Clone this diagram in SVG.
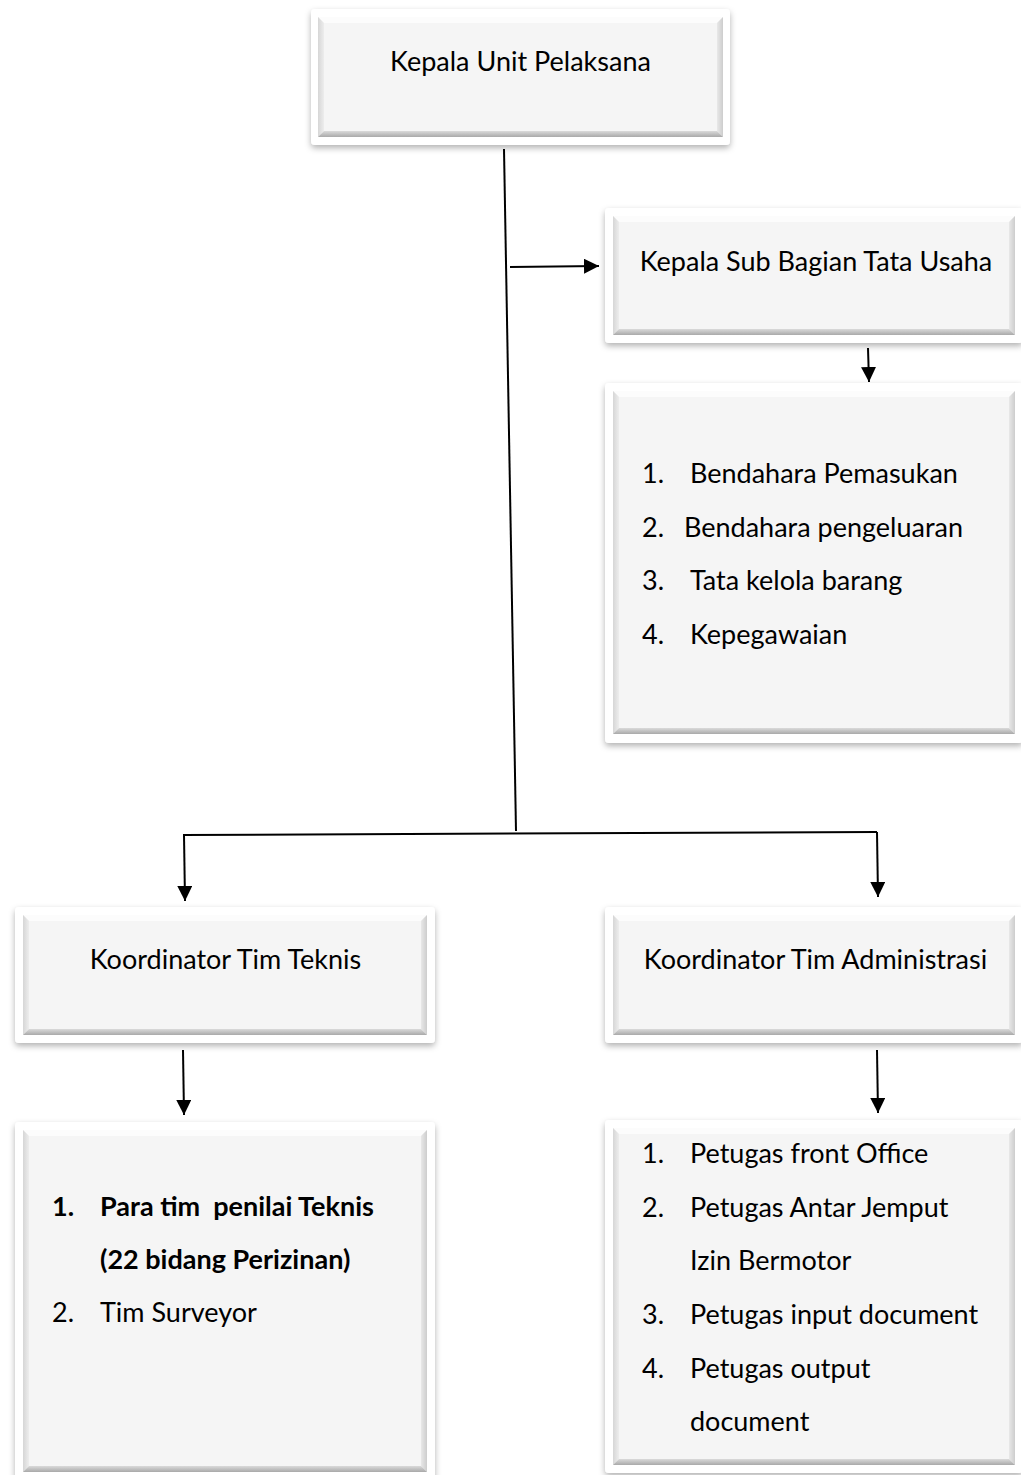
<svg xmlns="http://www.w3.org/2000/svg" width="1021" height="1475" viewBox="0 0 1021 1475">
<style>
.t{font-family:Lato,"Liberation Sans",sans-serif;font-size:27px;fill:#000;white-space:pre}
.b{font-weight:bold}
.outer{fill:#fff}
.face{fill:#f5f5f5}
.bt{fill:#fcfcfc}
.bl{fill:url(#gl)}
.br{fill:url(#gr)}
.bb{fill:url(#gb)}
.ln{stroke:#000;stroke-width:2;fill:none}
.ar{stroke:#000;stroke-width:2;fill:none;marker-end:url(#ah)}
</style>
<defs>
<filter id="sh" x="-10%" y="-10%" width="120%" height="125%">
<feDropShadow dx="0" dy="3" stdDeviation="3" flood-color="#000" flood-opacity="0.3"/>
</filter>
<linearGradient id="gl" x1="0" y1="0" x2="1" y2="0"><stop offset="0" stop-color="#d6d6d6"/><stop offset="1" stop-color="#ededed"/></linearGradient>
<linearGradient id="gr" x1="0" y1="0" x2="1" y2="0"><stop offset="0" stop-color="#e8e8e8"/><stop offset="1" stop-color="#cdcdcd"/></linearGradient>
<linearGradient id="gb" x1="0" y1="0" x2="0" y2="1"><stop offset="0" stop-color="#dadada"/><stop offset="1" stop-color="#a9a9a9"/></linearGradient>
<marker id="ah" markerUnits="userSpaceOnUse" markerWidth="16" markerHeight="16" refX="15" refY="7.5" orient="auto">
<path d="M0,0 L15,7.5 L0,15 Z" fill="#000"/>
</marker>
</defs>

<g id="n1">
<rect class="outer" x="311" y="9" width="419" height="136" rx="4" filter="url(#sh)"/>
<rect class="face" x="318" y="17" width="405" height="120"/>
<polygon class="bt" points="318,17 723,17 717,23 324,23"/>
<polygon class="bl" points="318,17 324,23 324,131 318,137"/>
<polygon class="br" points="723,17 723,137 717,131 717,23"/>
<polygon class="bb" points="318,137 723,137 717,131 324,131"/>
<text class="t" x="520.5" y="71" text-anchor="middle">Kepala Unit Pelaksana</text>
</g>

<g id="n2">
<rect class="outer" x="605" y="208" width="418" height="135" rx="4" filter="url(#sh)"/>
<rect class="face" x="613" y="216" width="402" height="119"/>
<polygon class="bt" points="613,216 1015,216 1009,222 619,222"/>
<polygon class="bl" points="613,216 619,222 619,329 613,335"/>
<polygon class="br" points="1015,216 1015,335 1009,329 1009,222"/>
<polygon class="bb" points="613,335 1015,335 1009,329 619,329"/>
<text class="t" x="816" y="271" text-anchor="middle">Kepala Sub Bagian Tata Usaha</text>
</g>

<g id="n3">
<rect class="outer" x="605" y="383" width="418" height="360" rx="4" filter="url(#sh)"/>
<rect class="face" x="613" y="391" width="402" height="343"/>
<polygon class="bt" points="613,391 1015,391 1009,397 619,397"/>
<polygon class="bl" points="613,391 619,397 619,728 613,734"/>
<polygon class="br" points="1015,391 1015,734 1009,728 1009,397"/>
<polygon class="bb" points="613,734 1015,734 1009,728 619,728"/>
<text class="t" x="642" y="483">1.</text><text class="t" x="690" y="483">Bendahara Pemasukan</text>
<text class="t" x="642" y="537">2.</text><text class="t" x="684" y="537">Bendahara pengeluaran</text>
<text class="t" x="642" y="590">3.</text><text class="t" x="690" y="590">Tata kelola barang</text>
<text class="t" x="642" y="644">4.</text><text class="t" x="690" y="644">Kepegawaian</text>
</g>

<g id="n4">
<rect class="outer" x="15" y="907" width="420" height="136" rx="4" filter="url(#sh)"/>
<rect class="face" x="23" y="915" width="404" height="120"/>
<polygon class="bt" points="23,915 427,915 421,921 29,921"/>
<polygon class="bl" points="23,915 29,921 29,1029 23,1035"/>
<polygon class="br" points="427,915 427,1035 421,1029 421,921"/>
<polygon class="bb" points="23,1035 427,1035 421,1029 29,1029"/>
<text class="t" x="225.5" y="969" text-anchor="middle">Koordinator Tim Teknis</text>
</g>

<g id="n5">
<rect class="outer" x="605" y="907" width="418" height="136" rx="4" filter="url(#sh)"/>
<rect class="face" x="613" y="915" width="402" height="120"/>
<polygon class="bt" points="613,915 1015,915 1009,921 619,921"/>
<polygon class="bl" points="613,915 619,921 619,1029 613,1035"/>
<polygon class="br" points="1015,915 1015,1035 1009,1029 1009,921"/>
<polygon class="bb" points="613,1035 1015,1035 1009,1029 619,1029"/>
<text class="t" x="815.5" y="969" text-anchor="middle">Koordinator Tim Administrasi</text>
</g>

<g id="n6">
<rect class="outer" x="15" y="1122" width="420" height="358" rx="4" filter="url(#sh)"/>
<rect class="face" x="23" y="1130" width="404" height="342"/>
<polygon class="bt" points="23,1130 427,1130 421,1136 29,1136"/>
<polygon class="bl" points="23,1130 29,1136 29,1466 23,1472"/>
<polygon class="br" points="427,1130 427,1472 421,1466 421,1136"/>
<polygon class="bb" points="23,1472 427,1472 421,1466 29,1466"/>
<text class="t b" x="52" y="1216">1.</text><text class="t b" x="100" y="1216" xml:space="preserve">Para tim  penilai Teknis</text>
<text class="t b" x="100" y="1269">(22 bidang Perizinan)</text>
<text class="t" x="52" y="1322">2.</text><text class="t" x="100" y="1322">Tim Surveyor</text>
</g>

<g id="n7">
<rect class="outer" x="605" y="1120" width="418" height="353" rx="4" filter="url(#sh)"/>
<rect class="face" x="613" y="1128" width="402" height="337"/>
<polygon class="bt" points="613,1128 1015,1128 1009,1134 619,1134"/>
<polygon class="bl" points="613,1128 619,1134 619,1459 613,1465"/>
<polygon class="br" points="1015,1128 1015,1465 1009,1459 1009,1134"/>
<polygon class="bb" points="613,1465 1015,1465 1009,1459 619,1459"/>
<text class="t" x="642" y="1163">1.</text><text class="t" x="690" y="1163">Petugas front Office</text>
<text class="t" x="642" y="1217">2.</text><text class="t" x="690" y="1217">Petugas Antar Jemput</text>
<text class="t" x="690" y="1270">Izin Bermotor</text>
<text class="t" x="642" y="1324">3.</text><text class="t" x="690" y="1324">Petugas input document</text>
<text class="t" x="642" y="1378">4.</text><text class="t" x="690" y="1378">Petugas output</text>
<text class="t" x="690" y="1431">document</text>
</g>

<g id="connectors">
<line class="ln" x1="504" y1="149" x2="516" y2="831"/>
<line class="ar" x1="510" y1="267" x2="599" y2="266"/>
<line class="ar" x1="868" y1="348" x2="869" y2="382"/>
<polyline class="ln" points="183,835 877,832"/>
<line class="ar" x1="184" y1="835" x2="185" y2="901"/>
<line class="ar" x1="877" y1="832" x2="878" y2="897"/>
<line class="ar" x1="183" y1="1050" x2="184" y2="1115"/>
<line class="ar" x1="877" y1="1050" x2="878" y2="1113"/>
</g>
</svg>
